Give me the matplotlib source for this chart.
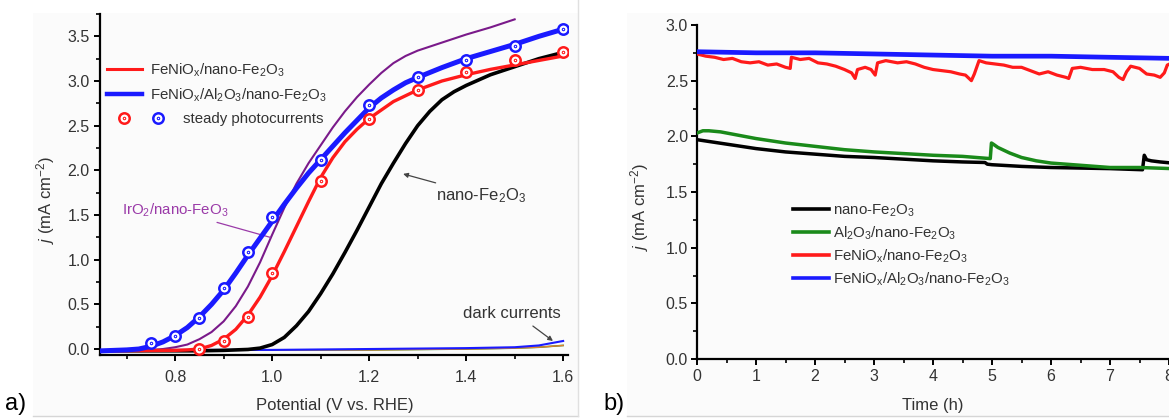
import matplotlib
matplotlib.use("Agg")
import matplotlib.pyplot as plt
from matplotlib.lines import Line2D
from matplotlib.patches import Rectangle
from matplotlib.path import Path
from matplotlib.ticker import MultipleLocator
from matplotlib.legend_handler import HandlerTuple

plt.rcParams['font.family'] = ['Liberation Sans', 'DejaVu Sans']
plt.rcParams['mathtext.fontset'] = 'custom'
plt.rcParams['mathtext.rm'] = 'Liberation Sans'
plt.rcParams['mathtext.it'] = 'Liberation Sans:italic'
plt.rcParams['mathtext.bf'] = 'Liberation Sans:bold'

TXT = '#333333'

# ---- (a) LSV curves, j vs potential ----
pot_nano = [0.65, 0.75, 0.85, 0.90, 0.95, 0.975, 1.00, 1.025, 1.05, 1.075, 1.10, 1.125,
            1.15, 1.175, 1.20, 1.225, 1.25, 1.275, 1.30, 1.325, 1.35, 1.375, 1.40,
            1.45, 1.50, 1.55, 1.60]
j_nano = [-0.02, -0.02, -0.02, -0.015, -0.005, 0.01, 0.05, 0.13, 0.26, 0.42, 0.62, 0.84,
          1.08, 1.33, 1.59, 1.85, 2.08, 2.30, 2.50, 2.66, 2.79, 2.88, 2.95,
          3.07, 3.16, 3.25, 3.32]

pot_feni = [0.65, 0.80, 0.825, 0.85, 0.875, 0.90, 0.925, 0.95, 0.975, 1.00, 1.025, 1.05,
            1.075, 1.10, 1.125, 1.15, 1.175, 1.20, 1.25, 1.30, 1.35, 1.40, 1.45, 1.50,
            1.55, 1.60]
j_feni = [-0.02, -0.015, -0.01, 0.00, 0.04, 0.11, 0.22, 0.38, 0.58, 0.82, 1.09, 1.37,
          1.65, 1.92, 2.14, 2.32, 2.46, 2.58, 2.77, 2.90, 3.00, 3.07, 3.13, 3.18,
          3.23, 3.28]

pot_feni_al = [0.65, 0.70, 0.725, 0.75, 0.775, 0.80, 0.825, 0.85, 0.875, 0.90, 0.925,
               0.95, 0.975, 1.00, 1.025, 1.05, 1.075, 1.10, 1.125, 1.15, 1.175, 1.20,
               1.225, 1.25, 1.275, 1.30, 1.35, 1.40, 1.45, 1.50, 1.55, 1.60]
j_feni_al = [-0.02, -0.01, 0.00, 0.03, 0.08, 0.15, 0.24, 0.36, 0.50, 0.66, 0.85,
             1.05, 1.24, 1.43, 1.62, 1.80, 1.97, 2.12, 2.27, 2.42, 2.56, 2.70,
             2.81, 2.90, 2.98, 3.04, 3.15, 3.25, 3.33, 3.41, 3.50, 3.58]

pot_ir = [0.75, 0.775, 0.80, 0.825, 0.85, 0.875, 0.90, 0.925, 0.95, 0.975, 1.00, 1.025,
          1.05, 1.075, 1.10, 1.125, 1.15, 1.175, 1.20, 1.225, 1.25, 1.275, 1.30, 1.35,
          1.40, 1.45, 1.50]
j_ir = [-0.01, 0.00, 0.02, 0.05, 0.11, 0.19, 0.31, 0.48, 0.70, 0.97, 1.28, 1.58,
        1.85, 2.08, 2.28, 2.48, 2.66, 2.82, 2.96, 3.09, 3.20, 3.28, 3.34, 3.43,
        3.52, 3.60, 3.69]

# dark currents
pot_dark = [0.65, 0.80, 1.00, 1.20, 1.40, 1.50, 1.55, 1.60]
j_dark_blue = [-0.02, -0.01, -0.01, 0.00, 0.01, 0.02, 0.04, 0.09]
j_dark_other = [-0.02, -0.01, -0.01, -0.01, 0.00, 0.01, 0.02, 0.04]

# steady-state photocurrents
pot_st_red = [0.85, 0.90, 0.95, 1.00, 1.10, 1.20, 1.30, 1.40, 1.50, 1.60]
j_st_red = [0.00, 0.09, 0.36, 0.85, 1.88, 2.57, 2.90, 3.10, 3.23, 3.33]
pot_st_blue = [0.75, 0.80, 0.85, 0.90, 0.95, 1.00, 1.10, 1.20, 1.30, 1.40, 1.50, 1.60]
j_st_blue = [0.07, 0.15, 0.35, 0.68, 1.09, 1.48, 2.12, 2.73, 3.04, 3.24, 3.39, 3.58]

# ---- (b) stability, j vs time ----
t_blue = [0, 1, 2, 3, 4, 5, 6, 7, 8.05]
jb_blue = [2.76, 2.75, 2.75, 2.74, 2.73, 2.72, 2.72, 2.71, 2.70]

t_red = [0.00, 0.15, 0.30, 0.45, 0.60, 0.75, 0.90, 1.05, 1.20, 1.35, 1.50, 1.58,
         1.60, 1.75, 1.90, 2.05, 2.20, 2.35, 2.50, 2.62, 2.68, 2.72, 2.85, 2.95,
         3.02, 3.06, 3.20, 3.40, 3.55, 3.70, 3.85, 4.00, 4.15, 4.30, 4.45, 4.55,
         4.65, 4.70, 4.78, 4.90, 5.05, 5.20, 5.35, 5.50, 5.65, 5.80, 5.95, 6.10,
         6.25, 6.30, 6.36, 6.50, 6.70, 6.90, 7.05, 7.15, 7.22, 7.28, 7.35, 7.50,
         7.62, 7.75, 7.85, 7.92, 7.97, 8.05]
jb_red = [2.74, 2.72, 2.71, 2.69, 2.70, 2.67, 2.66, 2.67, 2.64, 2.65, 2.62, 2.61,
          2.71, 2.69, 2.70, 2.66, 2.65, 2.63, 2.60, 2.57, 2.52, 2.60, 2.62, 2.60,
          2.55, 2.66, 2.68, 2.66, 2.67, 2.65, 2.62, 2.60, 2.59, 2.58, 2.56, 2.55,
          2.50, 2.56, 2.68, 2.66, 2.65, 2.64, 2.62, 2.62, 2.59, 2.56, 2.58, 2.55,
          2.53, 2.52, 2.61, 2.62, 2.60, 2.60, 2.58, 2.53, 2.51, 2.58, 2.63, 2.61,
          2.56, 2.55, 2.53, 2.57, 2.64, 2.66]

t_green = [0, 0.1, 0.2, 0.4, 0.7, 1.0, 1.5, 2.0, 2.5, 3.0, 3.5, 4.0, 4.5, 4.97,
           4.99, 5.02, 5.1, 5.3, 5.5, 5.75, 6.0, 6.5, 7.0, 7.5, 8.05]
jb_green = [2.03, 2.05, 2.05, 2.04, 2.01, 1.98, 1.94, 1.91, 1.88, 1.86, 1.845, 1.83,
            1.82, 1.80, 1.94, 1.93, 1.90, 1.85, 1.81, 1.78, 1.76, 1.74, 1.72, 1.72, 1.71]

t_black = [0, 0.5, 1, 1.5, 2, 2.5, 3, 3.5, 4, 4.5, 4.88, 4.92, 5.0, 5.5, 6, 6.5, 7,
           7.55, 7.58, 7.62, 7.7, 7.85, 8.05]
jb_black = [1.97, 1.93, 1.89, 1.86, 1.84, 1.82, 1.81, 1.795, 1.78, 1.77, 1.765, 1.75,
            1.745, 1.73, 1.72, 1.715, 1.71, 1.70, 1.83, 1.79, 1.78, 1.77, 1.76]

lab_nano = r'nano-Fe$_2$O$_3$'
lab_al = r'Al$_2$O$_3$/nano-Fe$_2$O$_3$'
lab_feni = r'FeNiO$_\mathrm{x}$/nano-Fe$_2$O$_3$'
lab_feni_al = r'FeNiO$_\mathrm{x}$/Al$_2$O$_3$/nano-Fe$_2$O$_3$'

# open circle with a centre dot
dot_circle = Path.make_compound_path(Path.circle((0, 0), 1.0), Path.circle((0, 0), 0.1))

W, H = 1169, 418
fig = plt.figure(figsize=(W / 100, H / 100), dpi=100)

# faint panel frames, kept behind the axes
for x0, x1 in ((33, 578), (627, W + 10)):
    fr = Rectangle((x0 / W, 2 / H), (x1 - x0) / W, (405 - 2) / H,
                   transform=fig.transFigure, facecolor='#fbfbfb', edgecolor='none')
    fr.set_zorder(-10)
    fig.patches.append(fr)
    fig.lines.append(Line2D([x0 / W, x1 / W], [2 / H, 2 / H], transform=fig.transFigure,
                            color='#d6d6d6', lw=1, zorder=-5))
fig.lines.append(Line2D([578 / W, 578 / W], [2 / H, 1], transform=fig.transFigure,
                        color='#e0e0e0', lw=1, zorder=-5))

ax1 = fig.add_axes([100 / W, 1 - 355 / H, 468 / W, 341 / H])
ax2 = fig.add_axes([697 / W, 1 - 359 / H, 475 / W, 334 / H])
for ax in (ax1, ax2):
    ax.patch.set_alpha(0)
    ax.spines['top'].set_visible(False)
    ax.spines['right'].set_visible(False)
    for s in ('left', 'bottom'):
        ax.spines[s].set_linewidth(1.6)
    ax.tick_params(which='major', direction='out', length=4.5, width=1.4, colors='black',
                   labelcolor=TXT, labelsize=11.5)
    ax.tick_params(which='minor', direction='out', length=3, width=1.2)

# ---- panel a ----
ax1.plot(pot_dark, j_dark_other, color='#2a8a2a', lw=1.2, zorder=2)
ax1.plot(pot_dark, j_dark_other, color='#e08030', lw=1.0, zorder=2)
ax1.plot(pot_dark, j_dark_blue, color='#1a1aff', lw=1.5, zorder=2)
ax1.plot(pot_nano, j_nano, color='black', lw=2.6, zorder=3)
ax1.plot(pot_ir, j_ir, color='#7a1a8a', lw=1.5, zorder=3)
ax1.plot(pot_feni, j_feni, color='#ff1a1a', lw=2.4, zorder=4)
ax1.plot(pot_feni_al, j_feni_al, color='#1a1aff', lw=3.6, zorder=4)
ax1.plot(pot_st_red, j_st_red, ls='none', marker=dot_circle, ms=7.5, mfc='white',
         mec='#ff1a1a', mew=1.8, zorder=5)
ax1.plot(pot_st_blue, j_st_blue, ls='none', marker=dot_circle, ms=7.5, mfc='white',
         mec='#1a1aff', mew=1.8, zorder=5)

ax1.set_xlim(0.645, 1.61)
ax1.set_ylim(-0.067, 3.75)
ax1.xaxis.set_minor_locator(MultipleLocator(0.1))
ax1.yaxis.set_major_locator(MultipleLocator(0.5))
ax1.yaxis.set_minor_locator(MultipleLocator(0.25))
ax1.set_xticks([0.8, 1.0, 1.2, 1.4, 1.6])
ax1.set_xticklabels(['0.8', '1.0', '1.2', '1.4', '1.6'])
ax1.tick_params(axis='x', pad=6)
ax1.tick_params(axis='y', pad=3)

ax1.set_xlabel('Potential (V vs. RHE)', fontsize=12, color=TXT)
ax1.xaxis.set_label_coords(0.502, -0.127)
ax1.set_ylabel(r'$j$ (mA cm$^{-2}$)', fontsize=12, color=TXT)
ax1.yaxis.set_label_coords(-0.092, 0.455)

h_red = Line2D([], [], color='#ff1a1a', lw=2.2)
h_blue = Line2D([], [], color='#1a1aff', lw=3.2)
leg1 = ax1.legend([h_red, h_blue], [lab_feni, lab_feni_al], loc='upper left',
                  bbox_to_anchor=(0.015, 0.86), frameon=False, fontsize=10.8,
                  handlelength=2.33, handletextpad=0.53, labelspacing=0.5,
                  borderpad=0, borderaxespad=0, labelcolor=TXT)
ax1.add_artist(leg1)

m_red = Line2D([], [], ls='none', marker=dot_circle, ms=7.5, mfc='white',
               mec='#ff1a1a', mew=1.8)
m_blue = Line2D([], [], ls='none', marker=dot_circle, ms=7.5, mfc='white',
                mec='#1a1aff', mew=1.8)
ax1.legend([(m_red, m_blue)], ['steady photocurrents'],
           handler_map={tuple: HandlerTuple(ndivide=None, pad=0)},
           loc='center left', bbox_to_anchor=(0.015, 0.692), frameon=False,
           fontsize=10.8, handlelength=4.53, handletextpad=0.53, borderpad=0,
           borderaxespad=0, labelcolor=TXT)

ax1.annotate(lab_nano, xy=(1.270, 1.96), xytext=(1.338, 1.72), fontsize=12,
             color=TXT, ha='left', va='center',
             arrowprops=dict(arrowstyle='-|>', color='#444444', lw=0.9,
                             mutation_scale=7, shrinkA=1, shrinkB=0))
ax1.annotate(r'IrO$_2$/nano-FeO$_3$', xy=(0.996, 1.25), xytext=(0.909, 1.55),
             fontsize=10.8, color='#9a3aa8', ha='right', va='center',
             arrowprops=dict(arrowstyle='-', color='#9a3aa8', lw=0.9,
                             shrinkA=1, shrinkB=0))
ax1.annotate('dark currents', xy=(1.579, 0.09), xytext=(1.394, 0.40), fontsize=12,
             color=TXT, ha='left', va='center',
             arrowprops=dict(arrowstyle='-|>', color='#444444', lw=0.9,
                             mutation_scale=7, shrinkA=3, shrinkB=0,
                             relpos=(0.64, 0.0)))

# ---- panel b ----
ax2.plot(t_black, jb_black, color='black', lw=2.5, zorder=3)
ax2.plot(t_green, jb_green, color='#1a8a1a', lw=2.5, zorder=3)
ax2.plot(t_red, jb_red, color='#ff1a1a', lw=2.3, zorder=3)
ax2.plot(t_blue, jb_blue, color='#1a1aff', lw=3.4, zorder=4)

ax2.set_xlim(0, 8.05)
ax2.set_ylim(0, 3.0)
ax2.xaxis.set_major_locator(MultipleLocator(1))
ax2.xaxis.set_minor_locator(MultipleLocator(0.5))
ax2.yaxis.set_major_locator(MultipleLocator(0.5))
ax2.yaxis.set_minor_locator(MultipleLocator(0.25))
ax2.tick_params(axis='x', pad=3)
ax2.tick_params(axis='y', pad=2)

ax2.set_xlabel('Time (h)', fontsize=12, color=TXT)
ax2.xaxis.set_label_coords(4.0 / 8.05, -0.117)
ax2.set_ylabel(r'$j$ (mA cm$^{-2}$)', fontsize=12, color=TXT)
ax2.yaxis.set_label_coords(-0.097, 0.455)

hb = [Line2D([], [], color=c, lw=2.6) for c in ('black', '#1a8a1a', '#ff1a1a', '#1a1aff')]
ax2.legend(hb, [lab_nano, lab_al, lab_feni, lab_feni_al], loc='upper left',
           bbox_to_anchor=(96 / 475, 0.469), frameon=False, fontsize=10.8,
           handlelength=2.4, handletextpad=0.27, labelspacing=0.38,
           borderpad=0, borderaxespad=0, labelcolor=TXT)

fig.text(5 / W, 1 - 410 / H, 'a)', fontsize=17, color='black', va='baseline')
fig.text(603 / W, 1 - 410 / H, 'b)', fontsize=17, color='black', va='baseline')

fig.savefig('out.png', dpi=100)
